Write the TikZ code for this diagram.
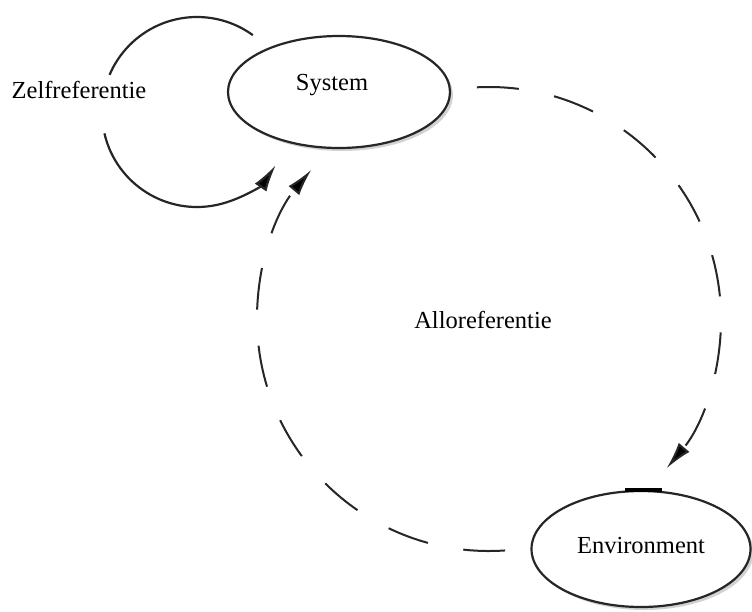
\documentclass[tikz,border=0pt]{standalone}
\usepackage{fontspec}
\setmainfont{Liberation Serif}
\usetikzlibrary{arrows.meta,shadows,shapes.geometric}
\begin{document}
\begin{tikzpicture}[x=1pt,y=-1pt,
  ell/.style={ellipse,draw=black!85,line width=2.2pt,fill=white,inner sep=0pt,
    drop shadow={shadow xshift=3pt,shadow yshift=-3pt,fill=black!35,opacity=0.5}},
  lbl/.style={font=\fontsize{24.5}{28}\selectfont,inner sep=0pt,anchor=base},
  loopline/.style={draw=black!85,line width=2.2pt},
  dashline/.style={draw=black!85,line width=2pt,dash pattern=on 42pt off 36pt},
  arr/.style={-{Latex[length=27pt,width=14pt,fill=black]}}]
\useasboundingbox (0,0) rectangle (752,611);
\node[ell,minimum width=222pt,minimum height=112pt] (sys) at (339,92) {};
\node[lbl] (systxt) at (332,90) {System};
\node[ell,minimum width=219pt,minimum height=116pt] (env) at (641,549) {};
\node[lbl] (envtxt) at (641,553) {Environment};
\draw[line width=3.5pt] ([xshift=-16pt]env.north) -- ([xshift=21pt]env.north);
\node[lbl] (zelf) at (79,98) {Zelfreferentie};
\node[lbl] (allo) at (483,328) {Alloreferentie};
\coordinate (zc) at (197,112);
\coordinate (cc) at (489,319);
\draw[loopline] ([shift={(-54:95)}]zc) arc[start angle=-54,end angle=-157,radius=95];
\draw[loopline,arr] ([shift={(167:95)}]zc) arc[start angle=167,end angle=34,radius=95];
\draw[dashline,arr] ([shift={(-93:232)}]cc) arc[start angle=-93,end angle=40,radius=232];
\draw[dashline,arr] ([shift={(86:232)}]cc) arc[start angle=86,end angle=220,radius=232];
\end{tikzpicture}
\end{document}
